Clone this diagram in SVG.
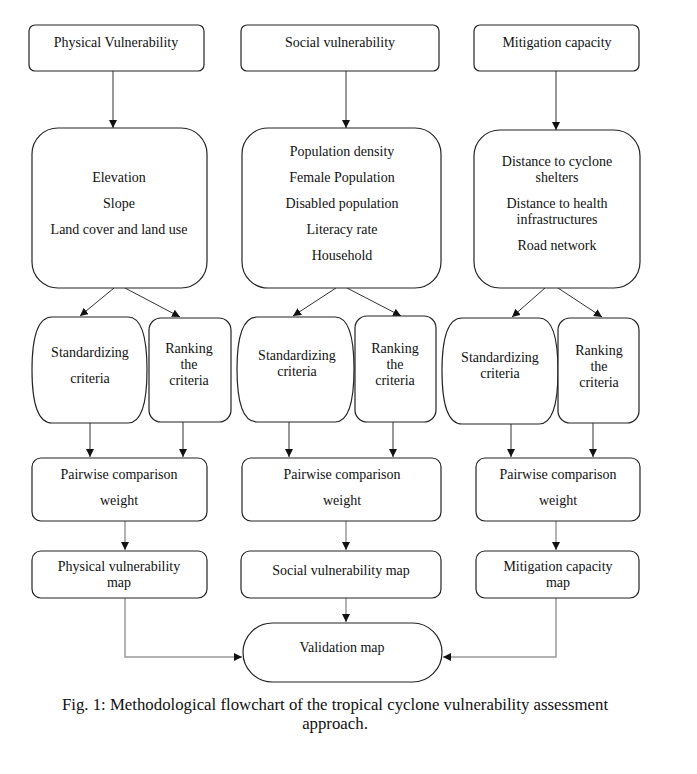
<svg xmlns="http://www.w3.org/2000/svg" width="697" height="774" viewBox="0 0 697 774">
<defs>
<marker id="ah" viewBox="0 0 10 10" refX="10" refY="5" markerWidth="8" markerHeight="8" markerUnits="userSpaceOnUse" orient="auto">
<path d="M0,0 L10,5 L0,10 Z" fill="#111"/>
</marker>
</defs>
<style>
.b{fill:#fff;stroke:#222;stroke-width:1.2}
.t{font-family:"Liberation Serif","DejaVu Serif",serif;font-size:14px;fill:#111;text-anchor:middle}
.c{fill:none;stroke:#333;stroke-width:1}
.g{fill:none;stroke:#999;stroke-width:1.5}
.cap{font-family:"Liberation Serif","DejaVu Serif",serif;font-size:16.8px;fill:#111;text-anchor:middle}
</style>
<rect width="697" height="774" fill="#fff"/>

<g id="connectors">
<line class="c" x1="113" y1="71" x2="113" y2="128" marker-end="url(#ah)"/>
<line class="c" x1="346" y1="71" x2="346" y2="128" marker-end="url(#ah)"/>
<line class="c" x1="556" y1="71" x2="556" y2="130" marker-end="url(#ah)"/>

<line class="c" x1="114" y1="288" x2="80" y2="316" marker-end="url(#ah)"/>
<line class="c" x1="125" y1="288" x2="180" y2="317" marker-end="url(#ah)"/>
<line class="c" x1="336" y1="288" x2="293" y2="316" marker-end="url(#ah)"/>
<line class="c" x1="347" y1="288" x2="401" y2="316" marker-end="url(#ah)"/>
<line class="c" x1="545" y1="288" x2="512" y2="317" marker-end="url(#ah)"/>
<line class="c" x1="558" y1="288" x2="602" y2="317" marker-end="url(#ah)"/>

<line class="c" x1="90" y1="423" x2="90" y2="457" marker-end="url(#ah)"/>
<line class="c" x1="183" y1="422" x2="183" y2="457" marker-end="url(#ah)"/>
<line class="c" x1="289" y1="422" x2="289" y2="457" marker-end="url(#ah)"/>
<line class="c" x1="393" y1="422" x2="393" y2="457" marker-end="url(#ah)"/>
<line class="c" x1="511" y1="424" x2="511" y2="457" marker-end="url(#ah)"/>
<line class="c" x1="593" y1="423" x2="593" y2="457" marker-end="url(#ah)"/>

<line class="g" x1="125" y1="521" x2="125" y2="550" marker-end="url(#ah)"/>
<line class="g" x1="346" y1="521" x2="346" y2="550" marker-end="url(#ah)"/>
<line class="g" x1="556" y1="521" x2="556" y2="550" marker-end="url(#ah)"/>

<line class="g" x1="346" y1="598" x2="346" y2="622" marker-end="url(#ah)"/>
<polyline class="g" points="125,598 125,657 242,657" marker-end="url(#ah)"/>
<polyline class="g" points="556,598 556,657 443,657" marker-end="url(#ah)"/>
</g>

<g id="physical">
<rect class="b" x="29" y="25" width="175" height="46" rx="6"/>
<text class="t" x="116" y="47">Physical Vulnerability</text>
</g>
<g id="social">
<rect class="b" x="241" y="25" width="198" height="46" rx="6"/>
<text class="t" x="340" y="47">Social vulnerability</text>
</g>
<g id="mitigation">
<rect class="b" x="474" y="25" width="165" height="46" rx="6"/>
<text class="t" x="557" y="47">Mitigation capacity</text>
</g>

<g id="phys-criteria">
<rect class="b" x="32" y="128" width="175" height="160" rx="26"/>
<text class="t" x="119" y="182">Elevation</text>
<text class="t" x="119" y="208">Slope</text>
<text class="t" x="119" y="234">Land cover and land use</text>
</g>
<g id="soc-criteria">
<rect class="b" x="242" y="128" width="199" height="160" rx="26"/>
<text class="t" x="342" y="156">Population density</text>
<text class="t" x="342" y="182">Female Population</text>
<text class="t" x="342" y="208">Disabled population</text>
<text class="t" x="342" y="234">Literacy rate</text>
<text class="t" x="342" y="260">Household</text>
</g>
<g id="mit-criteria">
<rect class="b" x="474" y="130" width="166" height="158" rx="26"/>
<text class="t" x="557" y="166">Distance to cyclone</text>
<text class="t" x="557" y="182">shelters</text>
<text class="t" x="557" y="208">Distance to health</text>
<text class="t" x="557" y="224">infrastructures</text>
<text class="t" x="557" y="250">Road network</text>
</g>

<g id="std1">
<path class="b" d="M52,317 L128,317 Q147,317 147,370 Q147,423 128,423 L52,423 Q32,423 32,370 Q32,317 52,317 Z"/>
<text class="t" x="90" y="357">Standardizing</text>
<text class="t" x="90" y="383">criteria</text>
</g>
<g id="rank1">
<rect class="b" x="149" y="318" width="82" height="104" rx="12"/>
<text class="t" x="189" y="353">Ranking</text>
<text class="t" x="189" y="369">the</text>
<text class="t" x="189" y="385">criteria</text>
</g>
<g id="std2">
<path class="b" d="M257,317 L335,317 Q354,317 354,369 Q354,422 335,422 L257,422 Q237,422 237,369 Q237,317 257,317 Z"/>
<text class="t" x="297" y="360">Standardizing</text>
<text class="t" x="297" y="376">criteria</text>
</g>
<g id="rank2">
<rect class="b" x="355" y="316" width="81" height="106" rx="12"/>
<text class="t" x="395" y="353">Ranking</text>
<text class="t" x="395" y="369">the</text>
<text class="t" x="395" y="385">criteria</text>
</g>
<g id="std3">
<path class="b" d="M462,318 L539,318 Q558,318 558,371 Q558,424 539,424 L462,424 Q442,424 442,371 Q442,318 462,318 Z"/>
<text class="t" x="500" y="362">Standardizing</text>
<text class="t" x="500" y="378">criteria</text>
</g>
<g id="rank3">
<rect class="b" x="558" y="318" width="81" height="105" rx="12"/>
<text class="t" x="599" y="355">Ranking</text>
<text class="t" x="599" y="371">the</text>
<text class="t" x="599" y="387">criteria</text>
</g>

<g id="pw1">
<rect class="b" x="32" y="458" width="175" height="63" rx="9"/>
<text class="t" x="119" y="479">Pairwise comparison</text>
<text class="t" x="119" y="505">weight</text>
</g>
<g id="pw2">
<rect class="b" x="242" y="458" width="199" height="63" rx="9"/>
<text class="t" x="342" y="479">Pairwise comparison</text>
<text class="t" x="342" y="505">weight</text>
</g>
<g id="pw3">
<rect class="b" x="476" y="458" width="164" height="63" rx="9"/>
<text class="t" x="558" y="479">Pairwise comparison</text>
<text class="t" x="558" y="505">weight</text>
</g>

<g id="map1">
<rect class="b" x="32" y="551" width="175" height="47" rx="9"/>
<text class="t" x="119" y="571">Physical vulnerability</text>
<text class="t" x="119" y="587">map</text>
</g>
<g id="map2">
<rect class="b" x="241" y="551" width="200" height="47" rx="9"/>
<text class="t" x="341" y="575">Social vulnerability map</text>
</g>
<g id="map3">
<rect class="b" x="476" y="551" width="163" height="47" rx="9"/>
<text class="t" x="558" y="571">Mitigation capacity</text>
<text class="t" x="558" y="587">map</text>
</g>

<g id="validation">
<rect class="b" x="243" y="623" width="199" height="59" rx="29.5"/>
<text class="t" x="342" y="652">Validation map</text>
</g>

<g id="caption">
<text class="cap" x="335" y="710">Fig. 1: Methodological flowchart of the tropical cyclone vulnerability assessment</text>
<text class="cap" x="335" y="729">approach.</text>
</g>
</svg>
